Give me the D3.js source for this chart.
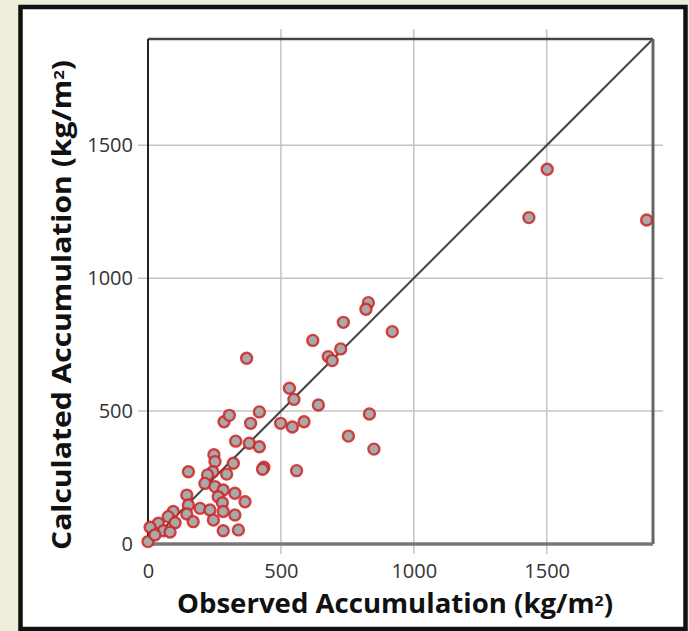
<!DOCTYPE html>
<html>
<head>
<meta charset="utf-8">
<script src="https://cdn.jsdelivr.net/npm/d3@7"></script>
<style>
  body { margin: 0; background: #efeedb; }
  svg { display: block; }
</style>
</head>
<body>
<div id="chart"></div>
<script>
// observed vs calculated accumulation (kg/m2)
const observed = [
  1502, 1433, 1876,
  829, 820, 735, 620, 919, 725, 678, 693, 371, 641, 833, 754, 850,
  532, 549, 587, 499, 543, 559, 286, 306, 419, 386, 330, 381, 419,
  436, 431, 248, 252, 321, 152, 244, 296, 224, 214, 252, 283, 327,
  146, 264, 280, 152, 196, 233, 283, 365, 327, 146, 95, 76, 102,
  170, 246, 39, 8, 58, 283, 340, 0, 26, 83
];
const calculated = [
  1410, 1228, 1219,
  908, 883, 834, 766, 799, 734, 705, 690, 699, 523, 489, 406, 357,
  586, 544, 460, 454, 440, 276, 460, 484, 497, 454, 387, 379, 366,
  289, 281, 336, 310, 304, 272, 272, 263, 260, 228, 216, 203, 191,
  184, 178, 155, 147, 134, 128, 122, 159, 109, 113, 122, 103, 80,
  84, 90, 78, 63, 50, 50, 53, 9, 34, 45
];
const tickValues = [0, 500, 1000, 1500];
const gridValues = [500, 1000, 1500];
const axisMax = 1900;
const xTitle = "Observed Accumulation (kg/m";
const yTitle = "Calculated Accumulation (kg/m";

const W = 689, H = 631;
const margin = { top: 39, left: 148 };
const size = 505;

const svg = d3.select("#chart").append("svg")
  .attr("width", W)
  .attr("height", H);

// white panel with black frame
svg.append("rect")
  .attr("x", 20.5).attr("y", 7)
  .attr("width", 665).attr("height", 622)
  .attr("fill", "white")
  .attr("stroke", "#111")
  .attr("stroke-width", 4.5);

const x = d3.scaleLinear().domain([0, axisMax]).range([0, size]);
const y = d3.scaleLinear().domain([0, axisMax]).range([size, 0]);

const g = svg.append("g")
  .attr("transform", "translate(" + margin.left + "," + margin.top + ")");

// grid lines, sticking out 10px past the frame
g.selectAll(".vgrid").data(gridValues).enter().append("line")
  .attr("x1", d => x(d)).attr("x2", d => x(d))
  .attr("y1", -10).attr("y2", size + 10)
  .attr("stroke", "#c4c4c4").attr("stroke-width", 1.5);
g.selectAll(".hgrid").data(gridValues).enter().append("line")
  .attr("x1", -10).attr("x2", size + 10)
  .attr("y1", d => y(d)).attr("y2", d => y(d))
  .attr("stroke", "#c4c4c4").attr("stroke-width", 1.5);

// 1:1 line
g.append("line")
  .attr("x1", x(0)).attr("y1", y(0))
  .attr("x2", x(axisMax)).attr("y2", y(axisMax))
  .attr("stroke", "#444").attr("stroke-width", 2);

// plot border
g.append("line").attr("x1", 0).attr("x2", size).attr("y1", 0).attr("y2", 0)
  .attr("stroke", "#444").attr("stroke-width", 2.5);
g.append("line").attr("x1", size).attr("x2", size).attr("y1", 0).attr("y2", size)
  .attr("stroke", "#666").attr("stroke-width", 3);
g.append("line").attr("x1", 0).attr("x2", size).attr("y1", size).attr("y2", size)
  .attr("stroke", "#777").attr("stroke-width", 3.5);
g.append("line").attr("x1", 0).attr("x2", 0).attr("y1", 0).attr("y2", size)
  .attr("stroke", "#222").attr("stroke-width", 2);

// tick labels
const fmt = d3.format("d");
const xAxis = g.append("g")
  .attr("transform", "translate(0," + size + ")")
  .call(d3.axisBottom(x).tickValues(tickValues).tickFormat(fmt).tickSize(0).tickPadding(20));
const yAxis = g.append("g")
  .call(d3.axisLeft(y).tickValues(tickValues).tickFormat(fmt).tickSize(0).tickPadding(15));
[xAxis, yAxis].forEach(a => {
  a.select(".domain").remove();
  a.selectAll("text")
    .attr("fill", "#333")
    .style("font-family", "'Open Sans', sans-serif")
    .style("font-size", "20px");
});

// points
const points = observed.map((o, i) => ({ o: o, c: calculated[i] }));
g.selectAll(".pt").data(points).enter().append("circle")
  .attr("cx", d => x(d.o))
  .attr("cy", d => y(d.c))
  .attr("r", 5.5)
  .attr("fill", "#a9a9a9")
  .attr("stroke", "#cc2626")
  .attr("stroke-opacity", 0.85)
  .attr("stroke-width", 2.4);

// axis titles, with a small raised "2"
function title(sel, txt) {
  sel.style("font-family", "'Open Sans', sans-serif")
    .style("font-weight", "bold")
    .attr("fill", "#111");
  sel.append("tspan").text(txt);
  sel.append("tspan").attr("dy", -7).style("font-size", "15px").text("2");
  sel.append("tspan").attr("dy", 7).text(")");
}

svg.append("text")
  .attr("x", 177).attr("y", 613)
  .attr("textLength", 436).attr("lengthAdjust", "spacingAndGlyphs")
  .style("font-size", "26px")
  .call(title, xTitle);

svg.append("text")
  .attr("transform", "translate(71,550) rotate(-90)")
  .attr("textLength", 490).attr("lengthAdjust", "spacingAndGlyphs")
  .style("font-size", "27px")
  .call(title, yTitle);
</script>
</body>
</html>
